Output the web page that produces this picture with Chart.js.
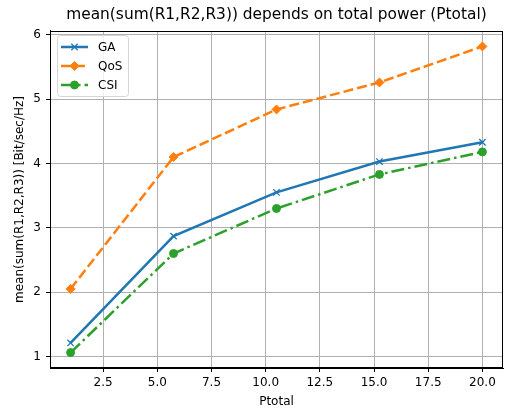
<!DOCTYPE html>
<html>
<head>
<meta charset="utf-8">
<script src="https://cdn.jsdelivr.net/npm/chart.js@4"></script>
<style>
  html, body { margin: 0; padding: 0; background: #fff; }
  #wrap { width: 509px; height: 409px; }
</style>
</head>
<body>
<div id="wrap"><canvas id="myChart" width="509" height="409"></canvas></div>
<script>
// data
const ptotal = [1, 5.75, 10.5, 15.25, 20];
const gaValues = [1.21, 2.87, 3.55, 4.03, 4.33];
const qosValues = [2.05, 4.10, 4.84, 5.26, 5.82];
const csiValues = [1.06, 2.60, 3.30, 3.83, 4.18];
const xTicks = [2.5, 5.0, 7.5, 10.0, 12.5, 15.0, 17.5, 20.0];
const yTicks = [1, 2, 3, 4, 5, 6];

const font = "'DejaVu Sans', sans-serif";

function pts(ys) {
    return ptotal.map((x, i) => ({ x: x, y: ys[i] }));
}

// frame on top and right, plus legend box inside the plot
const framePlugin = {
    id: "frame",
    afterDraw(chart) {
        const ctx = chart.ctx;
        const a = chart.chartArea;
        ctx.save();
        ctx.strokeStyle = "#000";
        ctx.lineWidth = 1;
        ctx.strokeRect(Math.round(a.left) + 0.5, Math.round(a.top) + 0.5,
            Math.round(a.right - a.left) - 1, Math.round(a.bottom - a.top) - 1);

        // legend
        const x0 = Math.round(a.left) + 7, y0 = Math.round(a.top) + 4;
        const w = 71, h = 61;
        ctx.fillStyle = "rgba(255,255,255,0.8)";
        ctx.strokeStyle = "#d6d6d6";
        ctx.lineWidth = 1;
        ctx.beginPath();
        ctx.roundRect(x0 + 0.5, y0 + 0.5, w, h, 3);
        ctx.fill();
        ctx.stroke();
        chart.data.datasets.forEach((ds, i) => {
            const ly = y0 + 12 + i * 19;
            ctx.strokeStyle = ds.borderColor;
            ctx.lineWidth = 2.5;
            ctx.setLineDash(ds.borderDash || []);
            ctx.beginPath();
            ctx.moveTo(x0 + 4, ly);
            ctx.lineTo(x0 + 31, ly);
            ctx.stroke();
            ctx.setLineDash([]);
            ctx.fillStyle = ds.borderColor;
            ctx.strokeStyle = ds.borderColor;
            ctx.lineWidth = ds.pointBorderWidth;
            Chart.helpers.drawPoint(ctx, {
                pointStyle: ds.pointStyle,
                radius: ds.pointRadius,
                rotation: 0,
                borderWidth: ds.pointBorderWidth
            }, x0 + 17.5, ly);
            ctx.fillStyle = "#000";
            ctx.font = "12px " + font;
            ctx.textBaseline = "middle";
            ctx.textAlign = "left";
            ctx.fillText(ds.label, x0 + 41, ly + 1);
        });
        ctx.restore();
    }
};

const ctx = document.getElementById("myChart").getContext("2d");
const myChart = new Chart(ctx, {
    type: "line",
    data: {
        datasets: [{
            label: "GA",
            data: pts(gaValues),
            borderColor: "#1f77b4",
            backgroundColor: "#1f77b4",
            borderWidth: 2.5,
            pointStyle: "crossRot",
            pointRadius: 4.5,
            pointBorderWidth: 1.3,
            tension: 0,
        }, {
            label: "QoS",
            data: pts(qosValues),
            borderColor: "#ff7f0e",
            backgroundColor: "#ff7f0e",
            borderWidth: 2.5,
            borderDash: [10, 4],
            pointStyle: "rectRot",
            pointRadius: 4.5,
            pointBorderWidth: 1,
            tension: 0,
        }, {
            label: "CSI",
            data: pts(csiValues),
            borderColor: "#2ca02c",
            backgroundColor: "#2ca02c",
            borderWidth: 2.5,
            borderDash: [13, 4, 2.5, 4],
            pointStyle: "circle",
            pointRadius: 4,
            pointBorderWidth: 1,
            tension: 0,
        }],
    },
    options: {
        responsive: false,
        animation: false,
        layout: { padding: { left: 0, right: 6, top: 0, bottom: 0 } },
        plugins: {
            legend: { display: false },
            tooltip: { enabled: false },
            title: {
                display: true,
                fullSize: false,
                text: "mean(sum(R1,R2,R3)) depends on total power (Ptotal)",
                color: "#000",
                font: { family: font, size: 15.4, weight: "normal" },
                padding: { top: 6, bottom: 6.5 },
            },
        },
        scales: {
            x: {
                type: "linear",
                min: 0.05,
                max: 20.95,
                afterBuildTicks: (axis) => { axis.ticks = xTicks.map(v => ({ value: v })); },
                afterFit: (axis) => { axis.height = 41; },
                ticks: {
                    color: "#000",
                    font: { family: font, size: 12 },
                    padding: 4,
                    maxRotation: 0,
                    callback: (v) => v.toFixed(1),
                },
                grid: { color: "#b0b0b0", tickColor: "#000", tickLength: 4, lineWidth: 1 },
                border: { color: "#000", width: 1 },
                title: {
                    display: true,
                    text: "Ptotal",
                    color: "#000",
                    font: { family: font, size: 12 },
                    padding: { top: 0, bottom: 0 },
                },
            },
            y: {
                type: "linear",
                min: 0.82,
                max: 6.06,
                afterBuildTicks: (axis) => { axis.ticks = yTicks.map(v => ({ value: v })); },
                afterFit: (axis) => { axis.width = 50; },
                ticks: {
                    color: "#000",
                    font: { family: font, size: 12 },
                    padding: 5,
                },
                grid: { color: "#b0b0b0", tickColor: "#000", tickLength: 4, lineWidth: 1 },
                border: { color: "#000", width: 1 },
                title: {
                    display: true,
                    text: "mean(sum(R1,R2,R3)) [Bit/sec/Hz]",
                    color: "#000",
                    font: { family: font, size: 12 },
                    padding: { top: 13, bottom: 0 },
                },
            },
        },
    },
    plugins: [framePlugin],
});
</script>
</body>
</html>
